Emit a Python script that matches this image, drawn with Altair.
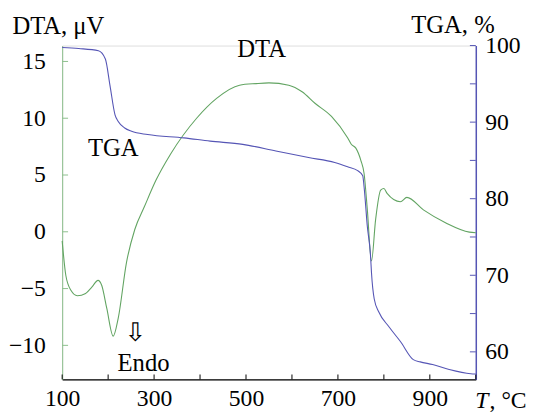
import altair as alt
import pandas as pd

# ---- data ----
dta_T = [100, 108, 119, 133, 151, 165, 178, 186, 197, 211, 222, 240, 258, 279, 304, 336, 393, 436, 486,
         522, 550, 593, 622, 650, 686, 721, 729, 739, 750, 757, 764, 773, 782, 793, 800, 807, 836, 850,
         886, 935, 986, 1000]
dta_V = [-0.8, -3.85, -5.15, -5.63, -5.43, -4.85, -4.28, -4.71, -6.73, -9.19, -7.6, -2.69, 0.2, 2.22,
         4.53, 6.85, 10.02, 11.75, 12.91, 13.05, 13.11, 12.91, 12.33, 11.32, 10.16, 8.28, 7.71, 7.37,
         6.27, 5.11, 1.93, -2.57, 1.07, 3.67, 3.81, 3.38, 2.65, 3.03, 1.93, 0.78, -0.03, -0.09]

tga_T = [100, 136, 179, 194, 204, 215, 222, 236, 251, 286, 365, 422, 493, 565, 636, 693, 721, 743, 754,
         757, 764, 771, 773, 779, 789, 811, 836, 864, 879, 906, 942, 989, 1000]
tga_V = [99.74, 99.61, 99.32, 98.24, 94.81, 90.95, 90.09, 89.23, 88.8, 88.38, 87.94, 87.52, 87.09,
         86.23, 85.37, 84.73, 84.17, 83.66, 83.01, 81.5, 76.36, 72.5, 70.36, 66.9, 65.21, 63.28, 61.35,
         58.98, 58.69, 58.34, 57.7, 57.14, 57.1]

x_ticks = [100, 200, 300, 400, 500, 600, 700, 800, 900, 1000]
x_labels = [100, 300, 500, 700, 900]
dta_ticks = [-10, -5, 0, 5, 10, 15]
tga_ticks = [60, 65, 70, 75, 80, 85, 90, 95, 100]
tga_labels = [60, 70, 80, 90, 100]

annot_dta = pd.DataFrame({
    "T": [211, 277, 534],
    "V": [7.4, -11.6, 16.1],
    "txt": ["TGA", "Endo", "DTA"],
})
arrow_df = pd.DataFrame({"T": [259], "V": [-8.9], "txt": ["\u21e9"]})

FONT = "Liberation Serif"
FS = 24     # tick labels
FT = 25     # titles / annotations
W, H = 420, 339
GREEN = "#62a462"
GREEN_AX = "#8cbf8c"
BLUE = "#5555b5"

dta_df = pd.DataFrame({"T": dta_T, "V": dta_V})
tga_df = pd.DataFrame({"T": tga_T, "V": tga_V})

xscale = alt.Scale(domain=[100, 1000], nice=False, zero=False)
yd_scale = alt.Scale(domain=[-13, 16.4], nice=False, zero=False)
yt_scale = alt.Scale(domain=[56.4, 100], nice=False, zero=False)

x_axis = alt.Axis(values=x_labels, tickSize=0, domainColor="black", domainWidth=1.2,
                  labelFont=FONT, labelFontSize=FS, labelColor="black", labelPadding=7,
                  grid=False, title="T", titleFont=FONT, titleFontSize=FS, titleFontStyle="italic",
                  titleFontWeight="normal", titleColor="black", titleAlign="left",
                  titleBaseline="alphabetic", titleX=419, titleY=29, labelFlush=False)

d_axis = alt.Axis(values=dta_ticks, tickSize=0, domainColor=GREEN_AX, grid=False,
                  labelFont=FONT, labelFontSize=FS, labelColor="black", labelPadding=17,
                  title="DTA, \u03bcV", titleFont=FONT, titleFontSize=FT, titleFontWeight="normal",
                  titleColor="black", titleAngle=0, titleAlign="left", titleBaseline="alphabetic",
                  titleX=-51, titleY=-12)

t_axis = alt.Axis(orient="right", values=tga_labels, tickSize=0, domainColor=BLUE, domainWidth=1.5,
                  grid=False, labelFont=FONT, labelFontSize=FS, labelColor="black", labelPadding=9,
                  title="TGA, %", titleFont=FONT, titleFontSize=FT, titleFontWeight="normal",
                  titleColor="black", titleAngle=0, titleAlign="left", titleBaseline="alphabetic",
                  titleX=-66, titleY=-13)

X = alt.X("T:Q", scale=xscale, axis=x_axis)
YD = alt.Y("V:Q", scale=yd_scale, axis=d_axis)
YT = alt.Y("V:Q", scale=yt_scale, axis=t_axis)

dta_line = alt.Chart(dta_df).mark_line(color=GREEN, strokeWidth=1.1, interpolate="monotone").encode(
    x=X, y=YD)

xtick = alt.Chart(pd.DataFrame({"T": x_ticks})).mark_rule(color="black", strokeWidth=1).encode(
    x=X, y=alt.value(H), y2=alt.value(H - 5))

dtick = alt.Chart(pd.DataFrame({"V": dta_ticks})).mark_rule(color=GREEN_AX, strokeWidth=1).encode(
    y=YD, x=alt.value(0), x2=alt.value(6))

dtext = alt.Chart(annot_dta).mark_text(font=FONT, fontSize=FT, color="black", align="center",
                                       baseline="middle").encode(x=X, y=YD, text="txt:N")

arrow = alt.Chart(arrow_df).mark_text(font="DejaVu Sans", fontSize=26, color="black", align="center",
                                      baseline="middle").encode(x=X, y=YD, text="txt:N")

unit = alt.Chart(pd.DataFrame({"txt": [", \u00b0C"]})).mark_text(
    font=FONT, fontSize=FS, color="black", align="left", baseline="alphabetic").encode(
    x=alt.value(W + 14), y=alt.value(H + 29), text="txt:N")

tga_line = alt.Chart(tga_df).mark_line(color=BLUE, strokeWidth=1.1, interpolate="monotone").encode(
    x=X, y=YT)

ttick = alt.Chart(pd.DataFrame({"V": tga_ticks})).mark_rule(color=BLUE, strokeWidth=1).encode(
    y=YT, x=alt.value(W), x2=alt.value(W - 6))

left = alt.layer(dta_line, xtick, dtick, dtext, arrow, unit)
right = alt.layer(tga_line, ttick)

chart = alt.layer(left, right).resolve_scale(y="independent").properties(
    width=W, height=H,
    padding={"left": 55, "top": 35, "right": 53, "bottom": 33},
    autosize=alt.AutoSizeParams(type="none"),
).configure_view(stroke=None).configure(background="white")

chart.save("out.html", embed_options={"renderer": "svg", "actions": False})
